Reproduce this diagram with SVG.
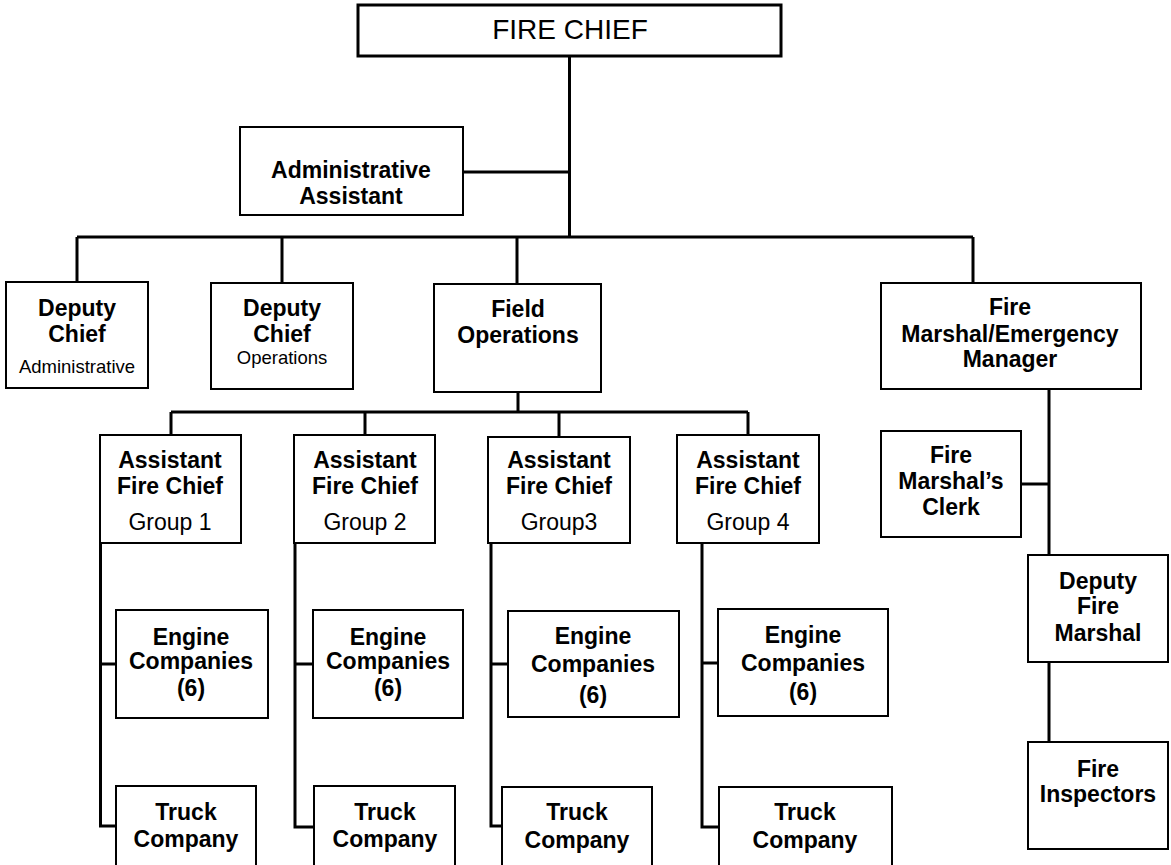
<svg xmlns="http://www.w3.org/2000/svg" width="1171" height="865" viewBox="0 0 1171 865">
  <style>
    .box { fill: #fff; stroke: #000; stroke-width: 2; }
    .top { fill: #fff; stroke: #000; stroke-width: 3; }
    .b { font-family: "Liberation Sans", Arial, sans-serif; font-weight: bold; font-size: 23px; text-anchor: middle; fill: #000; }
    .r { font-family: "Liberation Sans", Arial, sans-serif; font-size: 23px; text-anchor: middle; fill: #000; }
    .s { font-family: "Liberation Sans", Arial, sans-serif; font-size: 18.5px; text-anchor: middle; fill: #000; }
    .big { font-family: "Liberation Sans", Arial, sans-serif; font-size: 28px; text-anchor: middle; fill: #000; }
    .ln { fill: none; stroke: #000; stroke-width: 3; }
  </style>
  <rect width="1171" height="865" fill="#fff"/>

  <!-- connectors -->
  <g id="connectors" class="ln">
    <path d="M569.5 56 V237"/>
    <path d="M463 172 H569.5"/>
    <path d="M77 237 H973"/>
    <path d="M77 237 V282 M282 237 V283 M517 237 V284 M973 237 V283"/>
    <path d="M518 392 V412"/>
    <path d="M171 412 H748"/>
    <path d="M171 412 V435 M365 412 V435 M559 412 V437 M748 412 V435"/>
    <!-- group 1 -->
    <path d="M100.5 543 V826 H116 M100.5 664 H116"/>
    <!-- group 2 -->
    <path d="M295 543 V827 H314 M295 664 H313"/>
    <!-- group 3 -->
    <path d="M491 543 V826 H502 M491 664 H508"/>
    <!-- group 4 -->
    <path d="M702 543 V827 H719 M702 663 H718"/>
    <!-- fire marshal branch -->
    <path d="M1049 389 V742"/>
    <path d="M1021 484 H1049"/>
  </g>

  <g id="fire-chief">
    <rect class="top" x="358" y="5" width="423" height="51"/>
    <text class="big" x="570" y="39">FIRE CHIEF</text>
  </g>

  <g id="admin-assistant">
    <rect class="box" x="240" y="127" width="223" height="88"/>
    <text class="b" x="351" y="178">Administrative</text>
    <text class="b" x="351" y="204">Assistant</text>
  </g>

  <g id="deputy-chief-admin">
    <rect class="box" x="6" y="282" width="142" height="106"/>
    <text class="b" x="77" y="316">Deputy</text>
    <text class="b" x="77" y="342">Chief</text>
    <text class="s" x="77" y="373">Administrative</text>
  </g>

  <g id="deputy-chief-ops">
    <rect class="box" x="211" y="283" width="142" height="106"/>
    <text class="b" x="282" y="316">Deputy</text>
    <text class="b" x="282" y="342">Chief</text>
    <text class="s" x="282" y="364">Operations</text>
  </g>

  <g id="field-operations">
    <rect class="box" x="434" y="284" width="167" height="108"/>
    <text class="b" x="518" y="317">Field</text>
    <text class="b" x="518" y="343">Operations</text>
  </g>

  <g id="fire-marshal">
    <rect class="box" x="881" y="283" width="260" height="106"/>
    <text class="b" x="1010" y="315">Fire</text>
    <text class="b" x="1010" y="342">Marshal/Emergency</text>
    <text class="b" x="1010" y="367">Manager</text>
  </g>

  <g id="afc-group-1">
    <rect class="box" x="100" y="435" width="141" height="108"/>
    <text class="b" x="170" y="468">Assistant</text>
    <text class="b" x="170" y="494">Fire Chief</text>
    <text class="r" x="170" y="530">Group 1</text>
  </g>

  <g id="afc-group-2">
    <rect class="box" x="294" y="435" width="141" height="108"/>
    <text class="b" x="365" y="468">Assistant</text>
    <text class="b" x="365" y="494">Fire Chief</text>
    <text class="r" x="365" y="530">Group 2</text>
  </g>

  <g id="afc-group-3">
    <rect class="box" x="488" y="437" width="142" height="106"/>
    <text class="b" x="559" y="468">Assistant</text>
    <text class="b" x="559" y="494">Fire Chief</text>
    <text class="r" x="559" y="530">Group3</text>
  </g>

  <g id="afc-group-4">
    <rect class="box" x="677" y="435" width="142" height="108"/>
    <text class="b" x="748" y="468">Assistant</text>
    <text class="b" x="748" y="494">Fire Chief</text>
    <text class="r" x="748" y="530">Group 4</text>
  </g>

  <g id="fire-marshal-clerk">
    <rect class="box" x="881" y="431" width="140" height="106"/>
    <text class="b" x="951" y="463">Fire</text>
    <text class="b" x="951" y="489">Marshal’s</text>
    <text class="b" x="951" y="515">Clerk</text>
  </g>

  <g id="deputy-fire-marshal">
    <rect class="box" x="1028" y="555" width="140" height="107"/>
    <text class="b" x="1098" y="589">Deputy</text>
    <text class="b" x="1098" y="614">Fire</text>
    <text class="b" x="1098" y="641">Marshal</text>
  </g>

  <g id="fire-inspectors">
    <rect class="box" x="1028" y="742" width="140" height="107"/>
    <text class="b" x="1098" y="777">Fire</text>
    <text class="b" x="1098" y="802">Inspectors</text>
  </g>

  <g id="engine-1">
    <rect class="box" x="116" y="610" width="152" height="108"/>
    <text class="b" x="191" y="645">Engine</text>
    <text class="b" x="191" y="669">Companies</text>
    <text class="b" x="191" y="696">(6)</text>
  </g>

  <g id="engine-2">
    <rect class="box" x="313" y="610" width="150" height="108"/>
    <text class="b" x="388" y="645">Engine</text>
    <text class="b" x="388" y="669">Companies</text>
    <text class="b" x="388" y="696">(6)</text>
  </g>

  <g id="engine-3">
    <rect class="box" x="508" y="611" width="171" height="106"/>
    <text class="b" x="593" y="644">Engine</text>
    <text class="b" x="593" y="672">Companies</text>
    <text class="b" x="593" y="703">(6)</text>
  </g>

  <g id="engine-4">
    <rect class="box" x="718" y="609" width="170" height="107"/>
    <text class="b" x="803" y="643">Engine</text>
    <text class="b" x="803" y="671">Companies</text>
    <text class="b" x="803" y="700">(6)</text>
  </g>

  <g id="truck-1">
    <rect class="box" x="116" y="786" width="140" height="90"/>
    <text class="b" x="186" y="820">Truck</text>
    <text class="b" x="186" y="847">Company</text>
  </g>

  <g id="truck-2">
    <rect class="box" x="314" y="786" width="141" height="90"/>
    <text class="b" x="385" y="820">Truck</text>
    <text class="b" x="385" y="847">Company</text>
  </g>

  <g id="truck-3">
    <rect class="box" x="502" y="787" width="150" height="90"/>
    <text class="b" x="577" y="820">Truck</text>
    <text class="b" x="577" y="848">Company</text>
  </g>

  <g id="truck-4">
    <rect class="box" x="719" y="787" width="173" height="90"/>
    <text class="b" x="805" y="820">Truck</text>
    <text class="b" x="805" y="848">Company</text>
  </g>
</svg>
